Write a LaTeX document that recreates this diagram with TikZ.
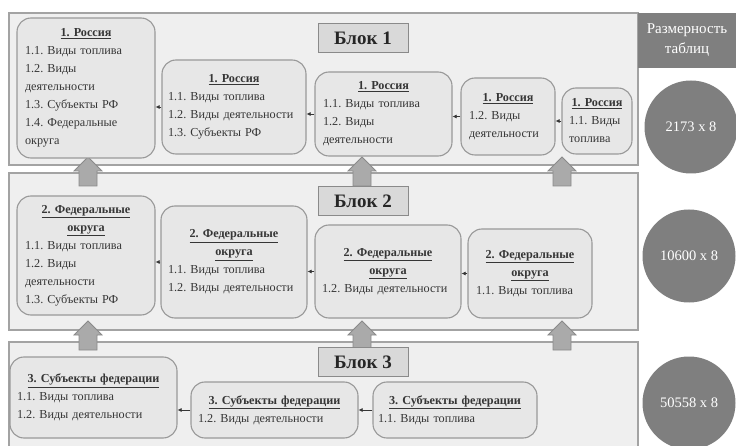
\documentclass[tikz,border=0pt]{standalone}
\usepackage{fontspec}
\setmainfont{Liberation Serif}
\usetikzlibrary{arrows.meta}
\definecolor{panelfill}{HTML}{EFEFEF}
\definecolor{panelline}{HTML}{A3A3A3}
\definecolor{boxfill}{HTML}{E7E7E7}
\definecolor{boxline}{HTML}{999999}
\definecolor{txt}{HTML}{363636}
\definecolor{darkgrey}{HTML}{7F7F7F}
\definecolor{arrfill}{HTML}{AAAAAA}
\definecolor{arrline}{HTML}{8A8A8A}
\definecolor{lblfill}{HTML}{D9D9D9}
\frenchspacing
\newcommand{\ttl}[1]{\makebox[\hsize][c]{\underline{\textbf{#1}}}}
\newcommand{\uparr}[2]{% x, tip y
  \draw[bigarr] (#1-9,#2+29) -- (#1-9,#2+14) -- (#1-14,#2+14) -- (#1,#2) -- (#1+14,#2+14) -- (#1+9,#2+14) -- (#1+9,#2+29) -- cycle;}
\tikzset{
  panel/.style={fill=panelfill, draw=panelline, line width=1.2pt},
  box/.style 2 args={rectangle, rounded corners=14pt, fill=boxfill, draw=boxline, line width=1.1pt,
    text=txt, align=left, inner xsep=8pt, inner ysep=3pt, text width=#1, minimum height=#2,
    font=\fontsize{12.2}{18}\selectfont\frenchspacing},
  blocklbl/.style={rectangle, fill=lblfill, draw=arrline, line width=1pt, minimum width=90pt,
    minimum height=29pt, inner sep=0pt, font=\fontsize{19}{22}\selectfont\bfseries, text=black!85},
  conn/.style={draw=txt, line width=0.6pt, -{Latex[length=4pt,width=4pt]}},
  bigarr/.style={fill=arrfill, draw=arrline, line width=0.8pt},
  dimcircle/.style={circle, fill=darkgrey, minimum size=93pt, inner sep=0pt, text=white,
    font=\fontsize{14.5}{16}\selectfont},
}
\begin{document}
\begin{tikzpicture}[x=1pt, y=-1pt]
\useasboundingbox (0,0) rectangle (736,446);
\clip (0,0) rectangle (736,446);
% panels
\draw[panel] (9,13) rectangle (638,165);
\draw[panel] (9,173) rectangle (638,330);
\draw[panel] (9,342) rectangle (638,470);
% header and circles
\node[rectangle, fill=darkgrey, minimum width=98pt, minimum height=55pt, inner sep=0pt, text=white,
  align=center, font=\fontsize{15}{20}\selectfont] (hdr) at (687,40.5) {Размерность\\таблиц};
\node[dimcircle] (c1) at (691,127) {2173 x 8};
\node[dimcircle] (c2) at (689,256) {10600 x 8};
\node[dimcircle] (c3) at (689,403) {50558 x 8};
% big arrows
\uparr{88}{157}
\uparr{362}{157}
\uparr{562}{157}
\uparr{88}{321}
\uparr{362}{321}
\uparr{562}{321}
% block labels
\node[blocklbl] (l1) at (363,38.5) {Блок 1};
\node[blocklbl] (l2) at (363,201.5) {Блок 2};
\node[blocklbl] (l3) at (363,362) {Блок 3};
% block 1
\node[box={122pt}{140pt}] (a1) at (86,88) {\ttl{1. Россия}\\1.1. Виды топлива\\1.2. Виды\\деятельности\\1.3. Субъекты РФ\\1.4. Федеральные\\округа};
\node[box={132pt}{94pt}, inner xsep=6pt] (a2) at (234,107) {\ttl{1. Россия}\\1.1. Виды топлива\\1.2. Виды деятельности\\1.3. Субъекты РФ};
\node[box={121pt}{84pt}] (a3) at (383.5,114) {\ttl{1. Россия}\\1.1. Виды топлива\\1.2. Виды\\деятельности};
\node[box={78pt}{77pt}] (a4) at (508,116.5) {\ttl{1. Россия}\\1.2. Виды\\деятельности};
\node[box={56pt}{66pt}, inner xsep=7pt] (a5) at (597,121) {\ttl{1. Россия}\\1.1. Виды\\топлива};
\draw[conn] (a2.west) -- (a2.west -| a1.east);
\draw[conn] (a3.west) -- (a3.west -| a2.east);
\draw[conn] (a4.west) -- (a4.west -| a3.east);
\draw[conn] (a5.west) -- (a5.west -| a4.east);
% block 2
\node[box={122pt}{119pt}] (b1) at (86,255.5) {\ttl{2. Федеральные}\\\ttl{округа}\\1.1. Виды топлива\\1.2. Виды\\деятельности\\1.3. Субъекты РФ};
\node[box={132pt}{112pt}, inner xsep=7pt] (b2) at (234,262) {\ttl{2. Федеральные}\\\ttl{округа}\\1.1. Виды топлива\\1.2. Виды деятельности};
\node[box={132pt}{93pt}, inner xsep=7pt] (b3) at (388,271.5) {\ttl{2. Федеральные}\\\ttl{округа}\\1.2. Виды деятельности};
\node[box={108pt}{89pt}] (b4) at (530,273.5) {\ttl{2. Федеральные}\\\ttl{округа}\\1.1. Виды топлива};
\draw[conn] (b2.west) -- (b2.west -| b1.east);
\draw[conn] (b3.west) -- (b3.west -| b2.east);
\draw[conn] (b4.west) -- (b4.west -| b3.east);
% block 3
\node[box={153pt}{81pt}, inner xsep=7pt] (k1) at (93.5,397.5) {\ttl{3. Субъекты федерации}\\1.1. Виды топлива\\1.2. Виды деятельности};
\node[box={153pt}{56pt}, inner xsep=7pt] (k2) at (274.5,410) {\ttl{3. Субъекты федерации}\\1.2. Виды деятельности};
\node[box={154pt}{56pt}, inner xsep=5pt] (k3) at (455,410) {\ttl{3. Субъекты федерации}\\1.1. Виды топлива};
\draw[conn] (k2.west) -- (k2.west -| k1.east);
\draw[conn] (k3.west) -- (k3.west -| k2.east);
\end{tikzpicture}
\end{document}
